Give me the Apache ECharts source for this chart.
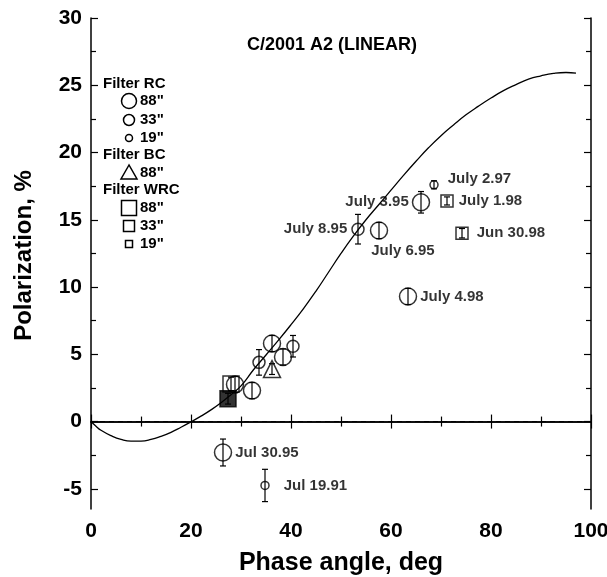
<!DOCTYPE html>
<html>
<head>
<meta charset="utf-8">
<script src="https://cdn.jsdelivr.net/npm/echarts@6/dist/echarts.min.js"></script>
<style>
  html, body { margin: 0; padding: 0; background: #fff; }
  #chart { width: 607px; height: 577px; }
</style>
</head>
<body>
<div id="chart"></div>
<script>
// model curve
const curveX = [0, 1, 2, 4, 6, 8, 10, 12, 14, 16, 18, 20, 22, 24, 26, 28, 30, 32.5, 35, 37.5, 40, 42.5, 45, 47.5, 50, 52.5, 55, 57.5, 60, 62.5, 65, 67.5, 70, 72.5, 75, 77.5, 80, 82.5, 85, 87.5, 90, 92.5, 95, 97];
const curveP = [0, -0.35, -0.65, -1.05, -1.33, -1.46, -1.45, -1.33, -1.1, -0.8, -0.42, -0.02, 0.4, 0.87, 1.4, 2.0, 2.65, 3.85, 4.95, 6.05, 7.2, 8.4, 9.7, 11.1, 12.5, 13.8, 15.0, 16.1, 17.2, 18.3, 19.35, 20.35, 21.25, 22.05, 22.8, 23.45, 24.05, 24.6, 25.05, 25.45, 25.7, 25.88, 25.95, 25.9];

// observations: [phase angle, polarization]
const rc88 = [[26.4, -2.3], [28.8, 2.75], [32.2, 2.3], [36.2, 5.8], [38.4, 4.8], [57.6, 14.2], [66.0, 16.3], [63.4, 9.3]];
const rc88Err = [1.0, 0.6, 0.6, 0.6, 0.6, 0.6, 0.8, 0.6];
const rc88Names = ["Jul 30.95", "", "", "", "", "July 6.95", "July 3.95", "July 4.98"];

const rc33 = [[33.6, 4.4], [40.4, 5.6], [53.4, 14.3]];
const rc33Err = [0.95, 0.8, 1.1];
const rc33Names = ["", "", "July 8.95"];

const rc19 = [[34.8, -4.75], [68.6, 17.6]];
const rc19Err = [1.2, 0.3];
const rc19Names = ["Jul 19.91", "July 2.97"];

const bc88 = [[36.2, 3.9]];
const bc88Err = [0.4];

const wrc88 = [[27.4, 1.7], [28.0, 2.8]];
const wrc88Err = [0.4, 0.5];

const wrc33 = [[71.2, 16.4], [74.2, 14.0]];
const wrc33Err = [0.3, 0.35];
const wrc33Names = ["July 1.98", "Jun 30.98"];

const yTicks = [-5, 0, 5, 10, 15, 20, 25, 30];
const yMinorTicks = [-2.5, 2.5, 7.5, 12.5, 17.5, 22.5, 27.5];

const FONT = "'Liberation Sans', Arial, sans-serif";

// label placement per name
const labelPlace = {
  "Jul 30.95": { position: "right", distance: 3 },
  "Jul 19.91": { position: "right", distance: 14 },
  "July 6.95": { position: "right", offset: [-22, 20] },
  "July 3.95": { position: "left", distance: 3 },
  "July 4.98": { position: "right", distance: 3 },
  "July 8.95": { position: "left", distance: 4 },
  "July 2.97": { position: "right", offset: [4, -6] },
  "July 1.98": { position: "right", distance: 5 },
  "Jun 30.98": { position: "right", distance: 8 }
};

function items(points, names) {
  return points.map((p, i) => {
    const name = names ? names[i] : "";
    const it = { value: p, name: name };
    if (name) {
      it.label = Object.assign({ show: true, formatter: "{b}" }, labelPlace[name]);
    }
    return it;
  });
}

const allPts = [].concat(rc88, rc33, rc19, bc88, wrc88, wrc33);
const allErr = [].concat(rc88Err, rc33Err, rc19Err, bc88Err, wrc88Err, wrc33Err);
const errData = allPts.map((p, i) => [p[0], p[1] - allErr[i], p[1] + allErr[i]]);

const hollow = { color: "rgba(0,0,0,0)", borderColor: "#000", borderWidth: 1.5 };
const labelStyle = { color: "#000", fontFamily: FONT, fontWeight: "bold", fontSize: 15 };

function scatter(data, symbol, size, extra) {
  return Object.assign({
    type: "scatter",
    data: data,
    symbol: symbol,
    symbolSize: size,
    itemStyle: hollow,
    label: Object.assign({ show: false }, labelStyle),
    z: 5
  }, extra || {});
}

const wrc88Items = items(wrc88);
wrc88Items[0].itemStyle = { color: "#000", borderColor: "#000", borderWidth: 1.5 };

const chart = echarts.init(document.getElementById("chart"));

function legendRow(y, sym, size, txt) {
  const cx = 129, out = [];
  if (sym === "circle") {
    out.push({ type: "circle", shape: { cx: cx, cy: y, r: size / 2 }, style: { fill: "none", stroke: "#000", lineWidth: 1.5 } });
  } else if (sym === "rect") {
    out.push({ type: "rect", shape: { x: cx - size / 2, y: y - size / 2, width: size, height: size }, style: { fill: "none", stroke: "#000", lineWidth: 1.5 } });
  } else {
    out.push({ type: "polygon", shape: { points: [[cx, y - 8], [cx - 8, y + 6], [cx + 8, y + 6]] }, style: { fill: "none", stroke: "#000", lineWidth: 1.5 } });
  }
  out.push({ type: "text", x: 140, y: y, style: { text: txt, fill: "#000", font: "bold 15px " + FONT, verticalAlign: "middle" } });
  return out;
}
function legendHead(y, txt) {
  return { type: "text", x: 103, y: y, style: { text: txt, fill: "#000", font: "bold 15px " + FONT, verticalAlign: "middle" } };
}

const graphic = [].concat(
  [legendHead(84, "Filter RC")],
  legendRow(101, "circle", 15, '88"'),
  legendRow(120, "circle", 11, '33"'),
  legendRow(138, "circle", 7, '19"'),
  [legendHead(155, "Filter BC")],
  legendRow(173, "tri", 15, '88"'),
  [legendHead(190, "Filter WRC")],
  legendRow(208, "rect", 15, '88"'),
  legendRow(226, "rect", 11, '33"'),
  legendRow(244, "rect", 7, '19"')
);

const axisLineStyle = { lineStyle: { color: "#000", width: 1.5 } };

const option = {
  animation: false,
  backgroundColor: "#fff",
  title: {
    text: "C/2001 A2 (LINEAR)",
    left: 327, top: 31, textAlign: "center",
    textStyle: { fontFamily: FONT, fontSize: 18, fontWeight: "bold", color: "#000" }
  },
  grid: { left: 91, right: 16, top: 18, bottom: 68, outerBoundsMode: "none", containLabel: false },
  xAxis: [
    {
      type: "value", position: "bottom", min: 0, max: 100, interval: 20,
      axisLine: axisLineStyle,
      axisTick: { inside: true, length: 7, lineStyle: { color: "#000", width: 1.2 } },
      minorTick: { show: true, splitNumber: 2, length: 5, lineStyle: { color: "#000", width: 1.2 } },
      axisLabel: { color: "#000", fontFamily: FONT, fontWeight: "bold", fontSize: 21, margin: 12 },
      splitLine: { show: false },
      name: "Phase angle, deg", nameLocation: "middle", nameGap: 42,
      nameTextStyle: { color: "#000", fontFamily: FONT, fontWeight: "bold", fontSize: 25 }
    },
    {
      type: "value", position: "top", min: 0, max: 100, interval: 20,
      axisLine: axisLineStyle,
      axisTick: { inside: true, length: 7, lineStyle: { color: "#000", width: 1.2 } },
      minorTick: { show: true, splitNumber: 2, length: 5, lineStyle: { color: "#000", width: 1.2 } },
      axisLabel: { show: false },
      splitLine: { show: false }
    }
  ],
  yAxis: [
    {
      type: "value", position: "left", min: -6.5, max: 30,
      axisLine: axisLineStyle,
      axisTick: { inside: true, length: 7, customValues: yTicks, lineStyle: { color: "#000", width: 1.2 } },
      axisLabel: { customValues: yTicks, color: "#000", fontFamily: FONT, fontWeight: "bold", fontSize: 21, margin: 9 },
      splitLine: { show: false },
      name: "Polarization, %", nameLocation: "middle", nameGap: 55,
      nameTextStyle: { color: "#000", fontFamily: FONT, fontWeight: "bold", fontSize: 24, padding: [0, 0, 0, 16] }
    },
    {
      type: "value", position: "left", min: -6.5, max: 30,
      axisLine: { show: false },
      axisTick: { inside: true, length: 5, customValues: yMinorTicks, lineStyle: { color: "#000", width: 1.2 } },
      axisLabel: { show: false },
      splitLine: { show: false }
    },
    {
      type: "value", position: "right", min: -6.5, max: 30,
      axisLine: axisLineStyle,
      axisTick: { inside: true, length: 7, customValues: yTicks, lineStyle: { color: "#000", width: 1.2 } },
      axisLabel: { show: false },
      splitLine: { show: false }
    },
    {
      type: "value", position: "right", min: -6.5, max: 30,
      axisLine: { show: false },
      axisTick: { inside: true, length: 5, customValues: yMinorTicks, lineStyle: { color: "#000", width: 1.2 } },
      axisLabel: { show: false },
      splitLine: { show: false }
    }
  ],
  graphic: graphic,
  series: [
    {
      type: "line",
      data: curveX.map((x, i) => [x, curveP[i]]),
      smooth: true,
      showSymbol: false,
      lineStyle: { color: "#000", width: 1.3 },
      markLine: {
        silent: true, symbol: "none", label: { show: false },
        lineStyle: { color: "#000", type: [5, 4], width: 1 },
        data: [{ yAxis: 0 }]
      },
      z: 2
    },
    {
      type: "custom",
      data: errData,
      renderItem: function (params, api) {
        const x = api.value(0);
        const lo = api.coord([x, api.value(1)]);
        const hi = api.coord([x, api.value(2)]);
        const w = 3;
        const st = { stroke: "#000", lineWidth: 1.2 };
        return {
          type: "group",
          children: [
            { type: "line", shape: { x1: lo[0], y1: lo[1], x2: hi[0], y2: hi[1] }, style: st },
            { type: "line", shape: { x1: lo[0] - w, y1: lo[1], x2: lo[0] + w, y2: lo[1] }, style: st },
            { type: "line", shape: { x1: hi[0] - w, y1: hi[1], x2: hi[0] + w, y2: hi[1] }, style: st }
          ]
        };
      },
      z: 4
    },
    scatter(items(rc88, rc88Names), "circle", 17),
    scatter(items(rc33, rc33Names), "circle", 12),
    scatter(items(rc19, rc19Names), "circle", 8),
    scatter(items(bc88), "triangle", 17),
    scatter(wrc88Items, "rect", 16),
    scatter(items(wrc33, wrc33Names), "rect", 12)
  ]
};

chart.setOption(option);
</script>
</body>
</html>
